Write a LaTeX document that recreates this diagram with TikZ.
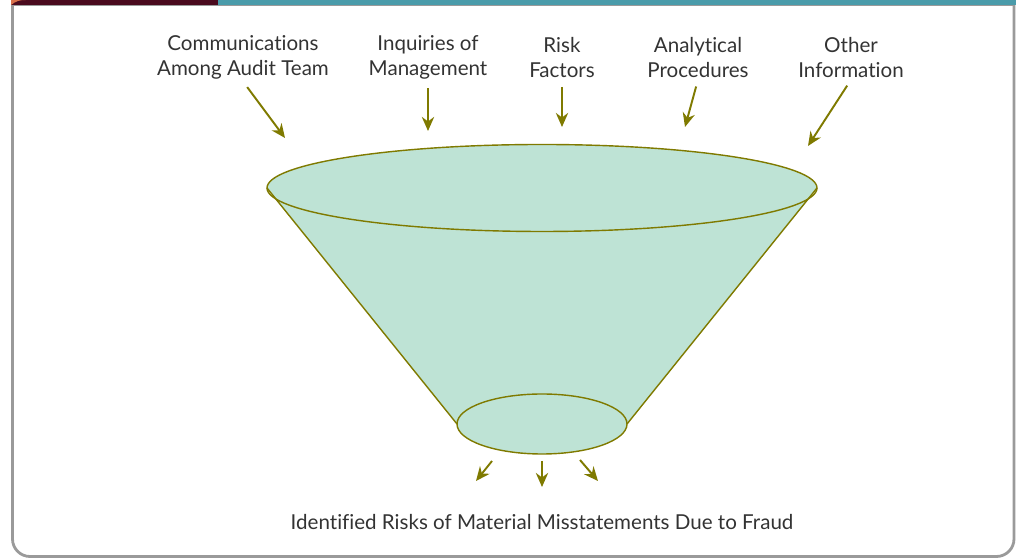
\documentclass[tikz,border=0pt]{standalone}
\usepackage{fontspec}
\setmainfont[Ligatures=NoCommon]{Lato}
\usepackage{xcolor}
\usepackage{tikz}
\usetikzlibrary{shapes, arrows.meta, positioning, calc}

\definecolor{olivearrow}{HTML}{7F7A00}
\definecolor{funnelgreen}{HTML}{BEE3D5}
\definecolor{labelgray}{HTML}{333333}
\definecolor{framegray}{HTML}{9A9A9A}
\definecolor{barmaroon}{HTML}{4A0A1E}
\definecolor{barteal}{HTML}{4A9BAA}
\definecolor{barorange}{HTML}{D9704A}

\begin{document}
\begin{tikzpicture}[
  lbl/.style={align=center, font=\fontsize{11.7}{14.2}\selectfont, text=labelgray, inner sep=1pt},
  feed/.style={-{Stealth[length=8pt,width=7pt]}, line width=1.1pt, draw=olivearrow, olivearrow}
]
\useasboundingbox (0,0) rectangle (20.32,11.18);

% frame and top bar
\draw[framegray, line width=1.6pt, rounded corners=0.35cm] (0.25,11.08) -- (0.25,0.05) -- (20.28,0.05) -- (20.28,11.08);
\draw[framegray, line width=1.6pt] (0.25,11.08) -- (20.28,11.08);
\fill[barmaroon] (0.22,11.08) rectangle (4.36,11.18);
\fill[barteal] (4.36,11.08) rectangle (20.32,11.18);
\fill[barorange] (0.22,11.08) -- (0.22,11.18) -- (0.52,11.18) to[bend right=20] (0.22,11.08);

% funnel
\coordinate (rimc) at (10.84,7.42);
\coordinate (neckc) at (10.84,2.70);
\fill[funnelgreen] ($(rimc)+(-5.5,0)$) -- ($(neckc)+(-1.7,0)$)
  arc[start angle=180, end angle=360, x radius=1.7cm, y radius=0.6cm]
  -- ($(rimc)+(5.5,0)$)
  arc[start angle=0, end angle=180, x radius=5.5cm, y radius=0.87cm] -- cycle;
\node[draw=olivearrow, line width=0.8pt, ellipse, minimum width=11cm, minimum height=1.74cm, inner sep=0pt, outer sep=0pt] (rim) at (rimc) {};
\node[draw=olivearrow, line width=0.8pt, ellipse, minimum width=3.4cm, minimum height=1.2cm, inner sep=0pt, outer sep=0pt] (neck) at (neckc) {};
\draw[olivearrow, line width=0.8pt] (rim.west) -- (neck.west);
\draw[olivearrow, line width=0.8pt] (rim.east) -- (neck.east);

% inputs
\node[lbl] (comm) at (4.86,10.03) {Communications\\Among Audit Team};
\node[lbl] (inq) at (8.56,10.03) {Inquiries of\\Management};
\node[lbl] (risk) at (11.24,10.03) {Risk\\Factors};
\node[lbl] (anal) at (13.96,10.03) {Analytical\\Procedures};
\node[lbl] (other) at (17.02,10.03) {Other\\Information};

\coordinate (commtip) at (5.70,8.42);
\coordinate (inqtip) at (8.56,8.56);
\coordinate (risktip) at (11.24,8.64);
\coordinate (analtip) at (13.70,8.64);
\coordinate (othertip) at (16.16,8.26);

\draw[feed, shorten <=4pt] (comm.south) -- (commtip);
\draw[feed, shorten <=4pt] (inq.south) -- (inqtip);
\draw[feed, shorten <=4pt] (risk.south) -- (risktip);
\draw[feed, shorten <=4pt] (anal.south) -- (analtip);
\draw[feed, shorten <=4pt] (other.south) -- (othertip);

% output
\node[lbl] (fraud) at (10.84,0.74) {Identified Risks of Material Misstatements Due to Fraud};

\coordinate (outl) at (9.84,1.96);
\coordinate (outm) at (10.84,1.96);
\coordinate (outr) at (11.60,1.98);
\coordinate (outltip) at (9.52,1.56);
\coordinate (outmtip) at (10.84,1.44);
\coordinate (outrtip) at (11.96,1.56);
\draw[feed] (outl) -- (outltip);
\draw[feed] (outm) -- (outmtip);
\draw[feed] (outr) -- (outrtip);
\end{tikzpicture}
\end{document}
